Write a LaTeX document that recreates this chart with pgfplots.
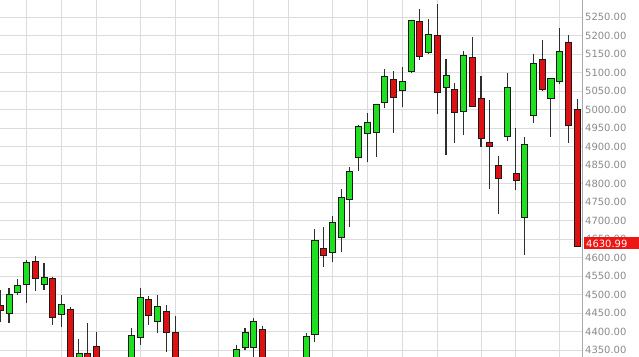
\documentclass[border=0pt]{standalone}
\usepackage{pgfplots}
\pgfplotsset{compat=1.18}
\usepackage{fontspec}
\setmainfont{DejaVu Sans}
\definecolor{cgreen}{HTML}{1EE01E}
\definecolor{cred}{HTML}{DD1111}
\definecolor{tagred}{HTML}{EE1515}
\definecolor{cdark}{HTML}{1A1A1A}
\definecolor{cwick}{HTML}{2E2E2E}
\definecolor{gridc}{HTML}{DCDCDC}
\definecolor{axisc}{HTML}{A8A8A8}
\definecolor{labc}{HTML}{8A8A8A}
% \candle{colour}{index}{open}{high}{low}{close}
\newcommand\candle[6]{%
  \pgfmathsetmacro\xa{#2-0.345}\pgfmathsetmacro\xb{#2+0.345}%
  \edef\tmp{%
    \noexpand\addplot[draw=cwick, line width=1.1bp] coordinates {(#2,#5) (#2,#4)};
    \noexpand\addplot[draw=cdark, fill=#1, line width=0.8bp] coordinates {(\xa,#3) (\xb,#3) (\xb,#6) (\xa,#6)} -- cycle;
  }\tmp}
\newcommand\G[5]{\candle{cgreen}{#1}{#2}{#3}{#4}{#5}}
\newcommand\R[5]{\candle{cred}{#1}{#2}{#3}{#4}{#5}}
\begin{document}
\begin{tikzpicture}
\useasboundingbox (0,0) rectangle (639bp,357bp);
\begin{axis}[
  at={(0,0)}, anchor=south west,
  scale only axis, width=582bp, height=357bp,
  xmin=-1.03, xmax=65.56, ymin=4331.1, ymax=5295.9,
  clip mode=individual,
  axis line style={draw=none},
  major tick length=0pt,
  xtick={2,6,10,15,19,24,28,32,37,41,45,49,54,58,63},
  xticklabel=\empty,
  ytick={4350,4400,...,5250},
  yticklabel pos=right,
  xmajorgrids, ymajorgrids,
  grid style={draw=gridc, line width=0.9bp},
  yticklabel style={anchor=west, inner sep=0pt, xshift=3bp, text=labc,
    font=\fontsize{10}{12}\selectfont,
    /pgf/number format/.cd, fixed, fixed zerofill, precision=2, 1000 sep={}, assume math mode=true},
  after end axis/.code={
    \draw[axisc, line width=1bp] (rel axis cs:1,0) -- (rel axis cs:1,1);
    \node[fill=tagred, text=white, anchor=west, xshift=2bp, minimum height=12bp, inner ysep=0pt, inner xsep=2bp, text width=51bp, align=left, font=\fontsize{10}{12}\selectfont] at (axis cs:65.56,4638) {4630.99};
  },
]
\R{-1}{4470}{4512}{4426}{4458}
\G{0}{4449}{4518}{4423}{4499}
\G{1}{4506}{4542}{4499}{4524}
\G{2}{4528}{4593}{4477}{4587}
\R{3}{4589}{4604}{4510}{4544}
\G{4}{4526}{4586}{4512}{4546}
\R{5}{4544}{4546}{4418}{4438}
\G{6}{4447}{4499}{4412}{4474}
\R{7}{4460}{4467}{4300}{4320}
\G{8}{4325}{4380}{4300}{4342}
\R{9}{4342}{4423}{4300}{4325}
\R{10}{4359}{4399}{4290}{4310}
\G{14}{4320}{4409}{4300}{4389}
\G{15}{4384}{4517}{4364}{4491}
\R{16}{4488}{4496}{4418}{4443}
\G{17}{4428}{4499}{4397}{4469}
\R{18}{4454}{4472}{4345}{4397}
\R{19}{4398}{4443}{4300}{4320}
\G{26}{4320}{4364}{4300}{4352}
\G{27}{4357}{4410}{4350}{4398}
\G{28}{4357}{4436}{4320}{4426}
\R{29}{4406}{4416}{4300}{4320}
\G{34}{4320}{4395}{4300}{4386}
\G{35}{4391}{4677}{4371}{4645}
\R{36}{4625}{4683}{4575}{4605}
\G{37}{4614}{4713}{4587}{4695}
\G{38}{4653}{4784}{4614}{4763}
\G{39}{4758}{4845}{4683}{4833}
\G{40}{4871}{4958}{4835}{4955}
\G{41}{4936}{4990}{4857}{4965}
\G{42}{4938}{5014}{4871}{5013}
\G{43}{5018}{5109}{5003}{5090}
\R{44}{5082}{5105}{4936}{5033}
\G{45}{5051}{5116}{5008}{5076}
\G{46}{5102}{5242}{5098}{5240}
\R{47}{5237}{5271}{5134}{5143}
\G{48}{5155}{5245}{5150}{5203}
\R{49}{5199}{5285}{4988}{5045}
\G{50}{5060}{5136}{4877}{5093}
\R{51}{5053}{5071}{4909}{4991}
\G{52}{4994}{5158}{4931}{5147}
\R{53}{5141}{5197}{5006}{5008}
\R{54}{5030}{5091}{4898}{4922}
\R{55}{4910}{5026}{4785}{4899}
\R{56}{4848}{4875}{4718}{4814}
\G{57}{4926}{5098}{4916}{5060}
\R{58}{4826}{4951}{4782}{4808}
\G{59}{4709}{4926}{4607}{4907}
\G{60}{4983}{5150}{4963}{5125}
\R{61}{5136}{5188}{5051}{5055}
\G{62}{5030}{5086}{4926}{5084}
\G{63}{5075}{5219}{5069}{5158}
\R{64}{5182}{5201}{4909}{4956}
\R{65}{4999}{5028}{4631}{4631}
\end{axis}
\end{tikzpicture}
\end{document}
